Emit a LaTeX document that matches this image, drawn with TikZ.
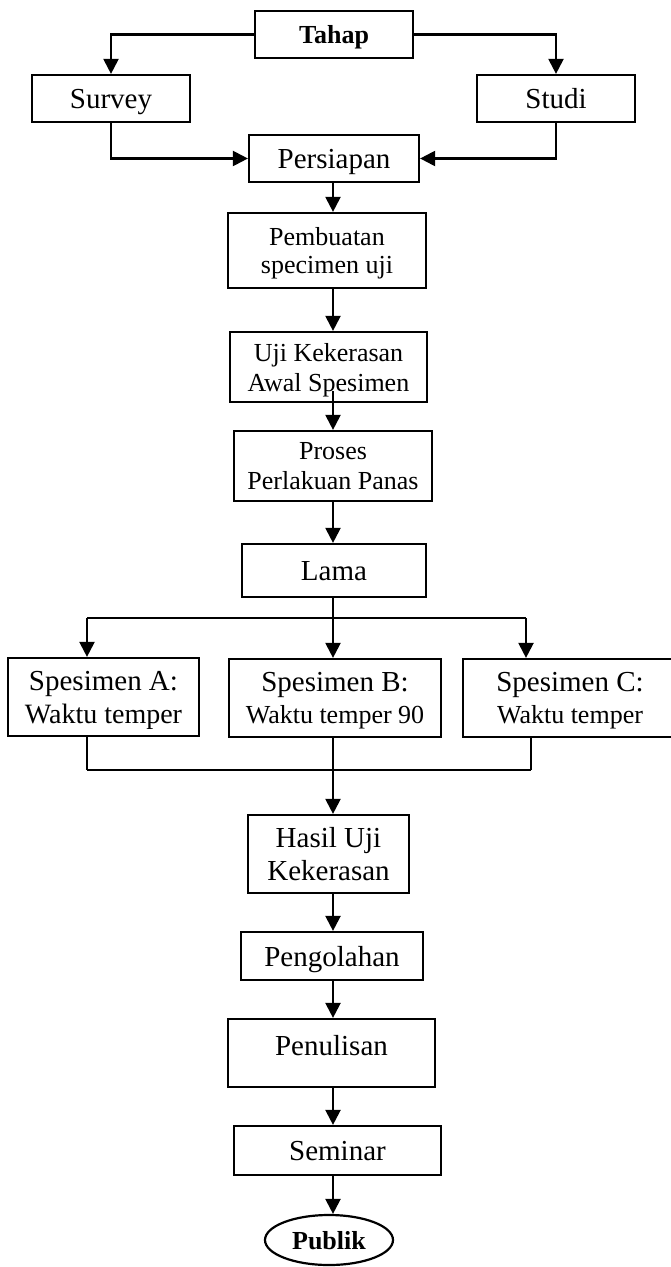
\documentclass[tikz,border=0pt]{standalone}
\usepackage{fontspec}
\setmainfont{Liberation Serif}
\usetikzlibrary{arrows.meta,shapes.geometric,calc}

\begin{document}
\begin{tikzpicture}[x=0.5pt,y=-0.5pt,
  box/.style={draw, line width=1.1pt, inner sep=0pt, align=center, font=\fontsize{14.5}{16.5}\selectfont},
  boxsm/.style={box, font=\fontsize{13}{15}\selectfont},
  boxbold/.style={box, font=\bfseries\fontsize{13}{15}\selectfont},
  oneline/.style={text height=10pt, text depth=0pt},
  twoline/.style={text depth=-3pt},
  link/.style={line width=1.1pt},
  thinlink/.style={line width=0.7pt},
  arr/.style={link, -{Triangle[length=7.5pt,width=7.5pt]}}]
\useasboundingbox (0,0) rectangle (670,1267);
\node[boxbold, minimum width=79pt, minimum height=23.5pt, text height=9pt, text depth=-2pt] (tahap) at (334,34.5) {Tahap};
\node[box, oneline, minimum width=79pt, minimum height=23.5pt] (survey) at (111,98.5) {Survey};
\node[box, oneline, minimum width=79pt, minimum height=23.5pt] (studi) at (556,98.5) {Studi};
\node[box, oneline, minimum width=85pt, minimum height=23.5pt] (persiapan) at (334,158.5) {Persiapan};
\node[boxsm, twoline, minimum width=99pt, minimum height=37.5pt] (pembuatan) at (327,250.5) {Pembuatan\\[-1pt]specimen uji};
\node[boxsm, twoline, minimum width=98.5pt, minimum height=35pt] (uji) at (328.5,367) {Uji Kekerasan\\Awal Spesimen};
\node[boxsm, twoline, minimum width=99pt, minimum height=35pt, text depth=-5pt] (proses) at (333,466) {Proses\\Perlakuan Panas};
\node[box, oneline, minimum width=92pt, minimum height=26.5pt] (lama) at (334,570.5) {Lama};
\node[box, twoline, minimum width=95.5pt, minimum height=39pt] (spesA) at (103.5,697) {Spesimen A:\\[0pt]{\fontsize{14}{16}\selectfont Waktu temper}};
\node[box, twoline, minimum width=106pt, minimum height=39pt] (spesB) at (335,698) {Spesimen B:\\[-0.5pt]{\fontsize{13}{15}\selectfont Waktu temper 90}};
\node[box, twoline, minimum width=107pt, minimum height=39pt] (spesC) at (570,698) {Spesimen C:\\[-0.5pt]{\fontsize{13}{15}\selectfont Waktu temper}};
\node[box, twoline, minimum width=80.5pt, minimum height=39pt, text depth=-5pt] (hasil) at (328.5,854) {Hasil Uji\\Kekerasan};
\node[box, oneline, minimum width=91pt, minimum height=24pt] (pengolahan) at (332,956) {Pengolahan};
\node[box, minimum width=103.5pt, minimum height=34pt, text height=10pt, text depth=8pt] (penulisan) at (331.5,1053) {Penulisan};
\node[box, oneline, minimum width=103.5pt, minimum height=24.5pt] (seminar) at (337.5,1150.5) {Seminar};
\node[boxbold, ellipse, minimum width=64pt, minimum height=25pt, text height=9pt, text depth=-6pt] (publik) at (329,1240) {Publik};
\coordinate (spine) at (333,0);
\coordinate (split) at (333,618);
\coordinate (dropA) at (87,618);
\coordinate (dropC) at (526,618);
\coordinate (joinA) at (87,770);
\coordinate (joinC) at (531,770);
\draw[arr] (tahap.west) -| (survey.north);
\draw[arr] (tahap.east) -| (studi.north);
\draw[arr] (survey.south) |- (persiapan.west);
\draw[arr] (studi.south) |- (persiapan.east);
\draw[arr] (persiapan.south -| spine) -- (pembuatan.north -| spine);
\draw[arr] (pembuatan.south -| spine) -- (uji.north -| spine);
\draw[arr] ($(uji.south -| spine)+(0,6pt)$) -- (proses.north -| spine);
\draw[arr] (proses.south -| spine) -- (lama.north -| spine);
\draw[link] (lama.south -| spine) -- (split);
\draw[link] (dropA) -- (dropC);
\draw[arr] (dropA) -- (dropA |- spesA.north);
\draw[arr] (split) -- (split |- spesB.north);
\draw[arr] (dropC) -- (dropC |- spesC.north);
\draw[link] (joinA |- spesA.south) -- (joinA);
\draw[link] (joinC |- spesC.south) -- (joinC);
\draw[thinlink] (joinA) -- (joinC);
\draw[arr] (spesB.south -| spine) -- (hasil.north -| spine);
\draw[arr] (hasil.south -| spine) -- (pengolahan.north -| spine);
\draw[arr] (pengolahan.south -| spine) -- (penulisan.north -| spine);
\draw[arr] (penulisan.south -| spine) -- (seminar.north -| spine);
\draw[arr] (seminar.south -| spine) -- (publik.north -| spine);
\end{tikzpicture}
\end{document}
